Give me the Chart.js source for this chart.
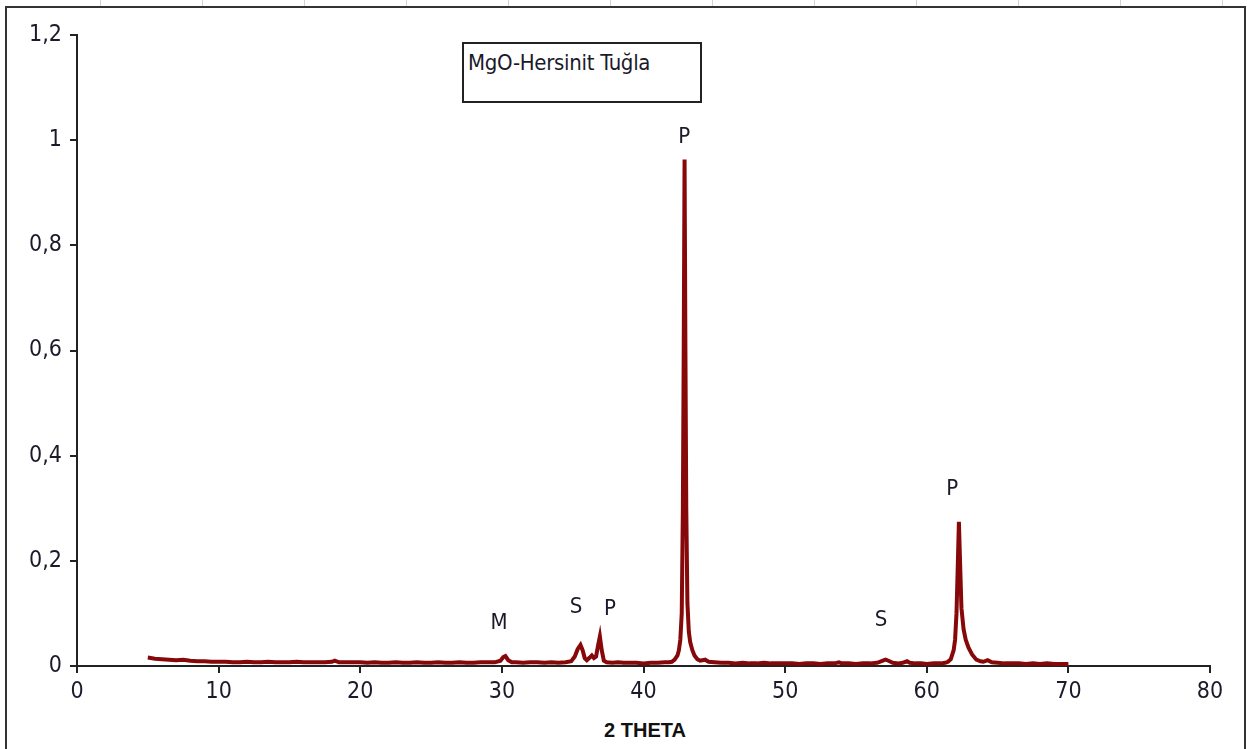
<!DOCTYPE html>
<html lang="tr">
<head>
<meta charset="UTF-8">
<title>MgO-Hersinit Tuğla</title>
<script src="https://cdn.jsdelivr.net/npm/chart.js"></script>
<style>
    body{
        margin: 0;
        width: 1248px;
        height: 749px;
        overflow: hidden;
        background: #fff;
        position: relative;
        font-family: "Liberation Sans Narrow", "Arial Narrow", "DejaVu Sans Condensed", "Liberation Sans", sans-serif;
    }
    .sheet{
        position: absolute; left: 0; top: 0; width: 1248px; height: 7px;
        background: repeating-linear-gradient(90deg, transparent 0 100px, #d4d4d4 100px 101px, transparent 101px 102px);
    }
    .frame{
        position: absolute; left: 5px; top: 6px; width: 1237px; height: 800px;
        border: 2px solid #333; background: #fff;
    }
    .legend-box{
        position: absolute; left: 462px; top: 42px; width: 240px; height: 61px;
        border: 2px solid #222; background: #fff;
        font-size: 22px; color: #1a1a2a; padding: 6px 0 0 4px; box-sizing: border-box;
        line-height: 26px; letter-spacing: -0.3px;
    }
    .xtitle{
        position: absolute; left: 0; width: 1290px; top: 719px; text-align: center;
        font-family: "Liberation Sans", sans-serif; font-weight: bold; font-size: 20px; color: #111;
    }
    canvas{ position: absolute; left: 0; top: 0; }
</style>
</head>
<body>
    <div class="sheet"></div>
    <div class="frame"></div>
    <div class="legend-box">MgO-Hersinit Tuğla</div>
    <div class="xtitle">2 THETA</div>
    <canvas id="xrd" width="1248" height="749"></canvas>

<script>
    // 2 theta (degrees)
    let twoTheta = [
        5.0, 5.5, 6.0, 6.5, 7.0, 7.5, 8.0, 8.5, 9.0, 9.5,
        10.0, 10.5, 11.0, 11.5, 12.0, 12.5, 13.0, 13.5, 14.0, 14.5,
        15.0, 15.5, 16.0, 16.5, 17.0, 17.5, 18.0, 18.2, 18.5, 19.0,
        19.5, 20.0, 20.5, 21.0, 21.5, 22.0, 22.5, 23.0, 23.5, 24.0,
        24.5, 25.0, 25.5, 26.0, 26.5, 27.0, 27.5, 28.0, 28.5, 29.0,
        29.5, 29.9, 30.1, 30.25, 30.45, 30.7, 31.0, 31.5, 32.0, 32.5,
        33.0, 33.5, 34.0, 34.5, 34.9, 35.15, 35.35, 35.55, 35.7, 35.85,
        36.0, 36.2, 36.35, 36.5, 36.65, 36.8, 36.92, 37.05, 37.2, 37.4,
        37.8, 38.2, 38.6, 39.0, 39.5, 40.0, 40.5, 41.0, 41.5, 41.8,
        42.0, 42.2, 42.4, 42.5, 42.6, 42.7, 42.78, 42.84, 42.9, 42.96,
        43.02, 43.1, 43.2, 43.3, 43.45, 43.6, 43.8, 44.0, 44.35, 44.6,
        45.0, 45.5, 46.0, 46.5, 47.0, 47.5, 48.0, 48.5, 49.0, 49.5,
        50.0, 50.5, 51.0, 51.5, 52.0, 52.5, 53.0, 53.5, 53.8, 54.0,
        54.5, 55.0, 55.5, 56.0, 56.5, 56.9, 57.1, 57.3, 57.6, 58.0,
        58.3, 58.6, 58.8, 59.2, 59.6, 60.0, 60.5, 61.0, 61.3, 61.5,
        61.7, 61.9, 62.0, 62.1, 62.2, 62.27, 62.35, 62.45, 62.6, 62.75,
        62.95, 63.2, 63.5, 63.8, 64.0, 64.3, 64.6, 65.0, 65.5, 66.0,
        66.5, 67.0, 67.5, 68.0, 68.5, 69.0, 69.5, 70.0
    ];

    // relative intensity
    let intensity = [
        0.016, 0.014, 0.013, 0.012, 0.011, 0.012, 0.010, 0.009, 0.009, 0.008,
        0.008, 0.008, 0.007, 0.007, 0.008, 0.007, 0.007, 0.008, 0.007, 0.007,
        0.007, 0.008, 0.007, 0.007, 0.007, 0.007, 0.008, 0.010, 0.007, 0.007,
        0.007, 0.007, 0.006, 0.007, 0.006, 0.006, 0.007, 0.006, 0.006, 0.007,
        0.006, 0.006, 0.007, 0.006, 0.006, 0.007, 0.006, 0.006, 0.007, 0.007,
        0.007, 0.010, 0.017, 0.019, 0.011, 0.007, 0.007, 0.006, 0.007, 0.007,
        0.006, 0.007, 0.006, 0.007, 0.009, 0.018, 0.032, 0.040, 0.030, 0.015,
        0.011, 0.016, 0.020, 0.015, 0.018, 0.040, 0.056, 0.030, 0.010, 0.007,
        0.006, 0.007, 0.006, 0.006, 0.006, 0.005, 0.006, 0.006, 0.007, 0.007,
        0.008, 0.012, 0.020, 0.030, 0.050, 0.100, 0.300, 0.600, 0.963, 0.600,
        0.300, 0.120, 0.065, 0.045, 0.030, 0.020, 0.013, 0.010, 0.012, 0.008,
        0.007, 0.006, 0.006, 0.005, 0.006, 0.005, 0.005, 0.006, 0.005, 0.005,
        0.005, 0.005, 0.004, 0.005, 0.005, 0.004, 0.005, 0.005, 0.007, 0.005,
        0.005, 0.004, 0.005, 0.005, 0.006, 0.010, 0.012, 0.010, 0.006, 0.005,
        0.006, 0.009, 0.006, 0.005, 0.005, 0.004, 0.005, 0.005, 0.006, 0.008,
        0.013, 0.030, 0.050, 0.100, 0.200, 0.274, 0.200, 0.110, 0.070, 0.050,
        0.035, 0.022, 0.012, 0.009, 0.008, 0.011, 0.007, 0.006, 0.005, 0.005,
        0.005, 0.004, 0.005, 0.004, 0.005, 0.004, 0.004, 0.004
    ];

    // phase labels over the peaks
    let peakText = ["M", "S", "P", "P", "S", "P"];
    let peakX    = [29.8, 35.24, 37.64, 42.87, 56.78, 61.8];
    let peakY    = [0.082, 0.112, 0.108, 1.006, 0.087, 0.337];

    let xTicks = [0, 10, 20, 30, 40, 50, 60, 70, 80];
    let yTicks = [0, 0.2, 0.4, 0.6, 0.8, 1, 1.2];

    let fontName = '"Liberation Sans Narrow", "Arial Narrow", "DejaVu Sans Condensed", "Liberation Sans", sans-serif';

    let points = twoTheta.map((t, i) => ({x: t, y: intensity[i]}));

    let peakLabels = {
        id: 'peakLabels',
        afterDatasetsDraw(chart){
            let ctx = chart.ctx;
            let xs = chart.scales.x, ys = chart.scales.y;
            ctx.save();
            ctx.font = '22px ' + fontName;
            ctx.fillStyle = '#1a1a2a';
            ctx.textAlign = 'center';
            ctx.textBaseline = 'middle';
            peakText.forEach((t, i) => {
                ctx.fillText(t, xs.getPixelForValue(peakX[i]), ys.getPixelForValue(peakY[i]));
            });
            ctx.restore();
        }
    };

    let xrdChart = new Chart(document.getElementById('xrd'), {
        type: 'line',
        data: {
            datasets: [{
                label: 'MgO-Hersinit Tuğla',
                data: points,
                borderColor: '#870808',
                borderWidth: 4,
                pointRadius: 0,
                tension: 0,
                fill: false
            }]
        },
        options: {
            responsive: false,
            animation: false,
            devicePixelRatio: 1,
            layout: { padding: { top: 35, right: 38, bottom: 0, left: 0 } },
            plugins: { legend: { display: false }, tooltip: { enabled: false } },
            scales: {
                x: {
                    type: 'linear',
                    min: 0, max: 80,
                    afterBuildTicks: (s) => { s.ticks = xTicks.map(v => ({value: v})); },
                    afterFit: (s) => { s.height = 83; },
                    ticks: { font: { family: fontName, size: 23 }, color: '#1a1a2a', padding: 5 },
                    grid: { drawOnChartArea: false, color: '#222', lineWidth: 2, tickLength: 7 },
                    border: { color: '#222', width: 2 }
                },
                y: {
                    min: 0, max: 1.2,
                    afterBuildTicks: (s) => { s.ticks = yTicks.map(v => ({value: v})); },
                    afterFit: (s) => { s.width = 77; },
                    ticks: {
                        font: { family: fontName, size: 23 }, color: '#1a1a2a', padding: 8,
                        callback: (v) => String(Math.round(v * 10) / 10).replace('.', ',')
                    },
                    grid: { drawOnChartArea: false, color: '#222', lineWidth: 2, tickLength: 7 },
                    border: { color: '#222', width: 2 }
                }
            }
        },
        plugins: [peakLabels]
    });
</script>
</body>
</html>
